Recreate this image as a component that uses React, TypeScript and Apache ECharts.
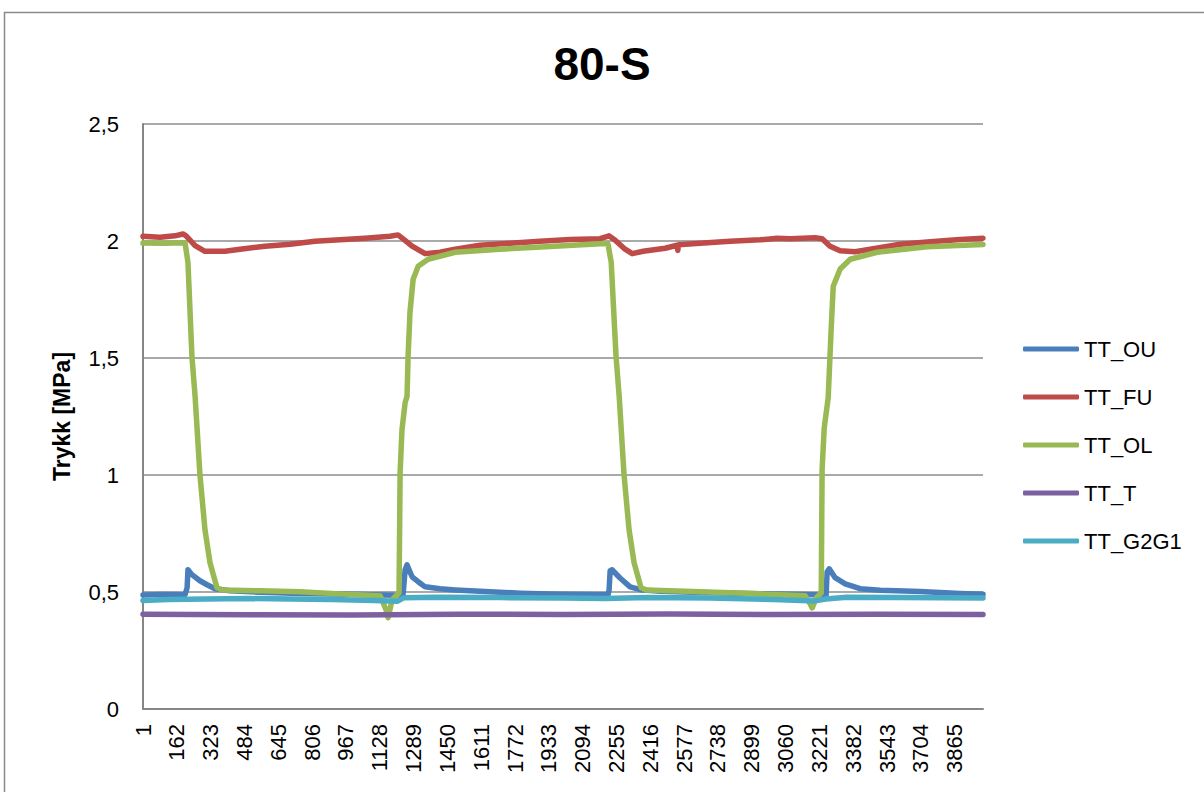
import React, { useEffect, useRef } from "react";
import * as echarts from "echarts";

const chartTitle = "80-S";
const yAxisTitle = "Trykk [MPa]";
const seriesNames = ["TT_OU", "TT_FU", "TT_OL", "TT_T", "TT_G2G1"];
const seriesColors = ["#4A7EBB", "#BE4B48", "#98B954", "#7D60A0", "#4BACC6"];

// x = sample index (0-based, label shows index + 1), y = pressure in MPa
const xStep = 161;
const xMax = 3999;
const yTicks = [0, 0.5, 1, 1.5, 2, 2.5];

const ttOU: [number, number][] = [
  [0, 0.487], [100, 0.489], [200, 0.488], [210, 0.518], [214, 0.595], [233, 0.574], [271, 0.548],
  [305, 0.531], [343, 0.514], [414, 0.505], [557, 0.499], [748, 0.494], [986, 0.49], [1200, 0.486],
  [1238, 0.488], [1248, 0.595], [1257, 0.616], [1281, 0.565], [1310, 0.544], [1343, 0.522],
  [1414, 0.514], [1486, 0.509], [1605, 0.503], [1795, 0.495], [1986, 0.49], [2214, 0.488],
  [2219, 0.509], [2224, 0.591], [2233, 0.595], [2271, 0.56], [2319, 0.522], [2367, 0.51],
  [2462, 0.503], [2652, 0.498], [2938, 0.493], [3129, 0.489], [3252, 0.487], [3257, 0.586],
  [3267, 0.599], [3295, 0.561], [3343, 0.535], [3414, 0.514], [3510, 0.507], [3700, 0.502],
  [3890, 0.494], [3999, 0.49],
];

const ttFU: [number, number][] = [
  [0, 2.02], [81, 2.016], [152, 2.022], [190, 2.03], [205, 2.022], [248, 1.98], [295, 1.956],
  [390, 1.956], [462, 1.965], [581, 1.978], [700, 1.986], [819, 1.999], [938, 2.005], [1057, 2.012],
  [1176, 2.02], [1214, 2.026], [1243, 2.006], [1281, 1.978], [1343, 1.946], [1414, 1.952],
  [1486, 1.965], [1605, 1.982], [1748, 1.99], [1890, 1.999], [2033, 2.006], [2176, 2.01],
  [2219, 2.022], [2248, 2.003], [2295, 1.965], [2329, 1.946], [2381, 1.956], [2486, 1.969],
  [2543, 1.982], [2546, 1.96], [2549, 1.984], [2652, 1.99], [2795, 1.999], [2938, 2.005],
  [3019, 2.012], [3081, 2.01], [3200, 2.014], [3233, 2.01], [3271, 1.978], [3319, 1.958],
  [3390, 1.954], [3462, 1.965], [3605, 1.986], [3748, 1.997], [3890, 2.006], [3999, 2.012],
];

const ttOL: [number, number][] = [
  [0, 1.991], [100, 1.99], [200, 1.993], [214, 1.909], [233, 1.507], [248, 1.336], [271, 1.002],
  [295, 0.766], [319, 0.625], [352, 0.518], [376, 0.509], [557, 0.505], [748, 0.501], [938, 0.492],
  [1129, 0.484], [1157, 0.424], [1167, 0.39], [1186, 0.467], [1219, 0.497], [1224, 1.01],
  [1233, 1.194], [1248, 1.31], [1257, 1.336], [1262, 1.507], [1271, 1.695], [1286, 1.836],
  [1310, 1.892], [1357, 1.922], [1486, 1.952], [1700, 1.965], [1938, 1.976], [2200, 1.989],
  [2214, 1.986], [2229, 1.909], [2252, 1.507], [2267, 1.336], [2290, 1.002], [2314, 0.766],
  [2338, 0.625], [2371, 0.518], [2395, 0.509], [2652, 0.501], [2938, 0.492], [3152, 0.484],
  [3176, 0.45], [3186, 0.432], [3205, 0.475], [3229, 0.497], [3233, 1.023], [3243, 1.2],
  [3262, 1.33], [3276, 1.62], [3286, 1.807], [3319, 1.88], [3367, 1.922], [3495, 1.952],
  [3733, 1.975], [3999, 1.985],
];

const ttT: [number, number][] = [
  [0, 0.405], [500, 0.403], [1000, 0.402], [1500, 0.405], [2000, 0.404], [2500, 0.406],
  [3000, 0.404], [3500, 0.405], [3999, 0.404],
];

const ttG2G1: [number, number][] = [
  [0, 0.464], [120, 0.468], [300, 0.47], [500, 0.472], [700, 0.47], [900, 0.468], [1100, 0.464],
  [1210, 0.46], [1240, 0.475], [1400, 0.478], [1700, 0.476], [2000, 0.474], [2200, 0.472],
  [2400, 0.476], [2700, 0.474], [3000, 0.468], [3200, 0.462], [3250, 0.47], [3350, 0.478],
  [3600, 0.476], [3999, 0.474],
];

const allSeries = [ttOU, ttFU, ttOL, ttT, ttG2G1];

const FONT = "Liberation Sans, Arial, sans-serif";

export default function App() {
  const ref = useRef<HTMLDivElement>(null);
  useEffect(() => {
    if (!ref.current) return;
    const chart = echarts.init(ref.current, null, { renderer: "svg" });
    chart.setOption({
      animation: false,
      backgroundColor: "#ffffff",
      title: {
        text: chartTitle,
        left: "center",
        top: 36,
        textStyle: { fontFamily: FONT, fontSize: 46, fontWeight: "bold", color: "#000" },
      },
      graphic: [
        {
          type: "rect",
          shape: { x: 4.5, y: 12.5, width: 1300, height: 900 },
          style: { fill: "none", stroke: "#8a8a8a", lineWidth: 1.5 },
          silent: true,
        },
      ],
      legend: {
        orient: "vertical",
        left: 1023,
        top: 338,
        padding: 0,
        itemGap: 26,
        itemWidth: 56,
        itemHeight: 5,
        icon: "roundRect",
        textStyle: { fontFamily: FONT, fontSize: 22, color: "#000" },
        data: seriesNames,
      },
      grid: { left: 143, right: 221, top: 124, bottom: 83 },
      xAxis: {
        type: "value",
        min: 0,
        max: xMax,
        interval: xStep,
        axisLine: { show: true, lineStyle: { color: "#868686", width: 2 } },
        axisTick: { show: false },
        splitLine: { show: false },
        axisLabel: {
          rotate: 90,
          margin: 15,
          showMaxLabel: false,
          fontFamily: FONT,
          fontSize: 22,
          color: "#000",
          formatter: (v: number) => String(v + 1),
        },
      },
      yAxis: {
        type: "value",
        min: yTicks[0],
        max: yTicks[yTicks.length - 1],
        interval: 0.5,
        name: yAxisTitle,
        nameLocation: "middle",
        nameRotate: 90,
        nameGap: 70,
        nameTextStyle: { fontFamily: FONT, fontSize: 23, fontWeight: "bold", color: "#000" },
        axisLine: { show: true, lineStyle: { color: "#868686", width: 2 } },
        axisTick: { show: false },
        splitLine: { show: true, lineStyle: { color: "#8c8c8c", width: 1.5 } },
        axisLabel: {
          margin: 24,
          fontFamily: FONT,
          fontSize: 22,
          color: "#000",
          formatter: (v: number) => String(v).replace(".", ","),
        },
      },
      series: seriesNames.map((name, i) => ({
        name,
        type: "line",
        data: allSeries[i],
        showSymbol: false,
        symbol: "none",
        color: seriesColors[i],
        lineStyle: { width: 5.5, color: seriesColors[i], cap: "round", join: "round" },
      })),
    });
    return () => chart.dispose();
  }, []);
  return (
    <div
      ref={ref}
      style={{ position: "absolute", left: 0, top: 0, width: 1204, height: 792 }}
    />
  );
}
